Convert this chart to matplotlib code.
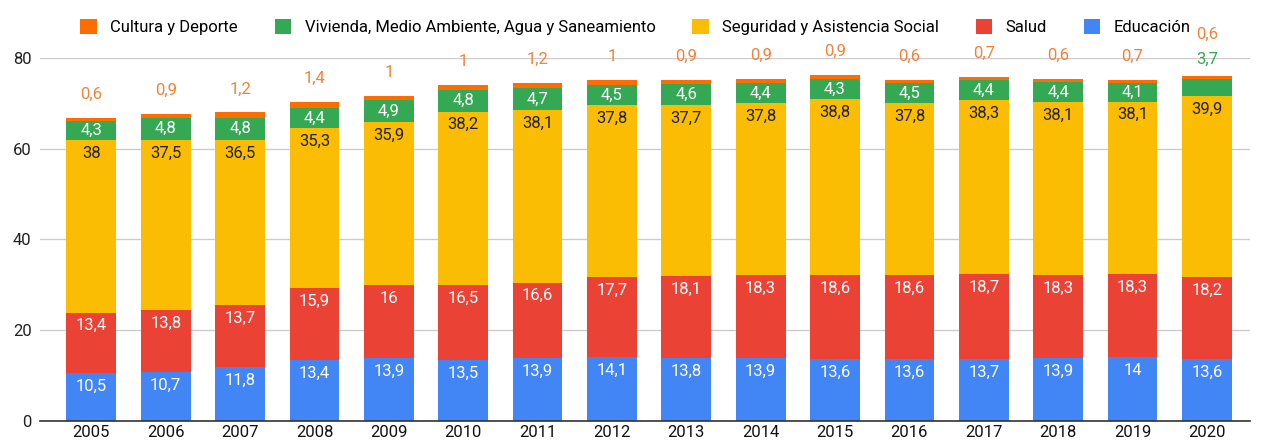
import matplotlib
matplotlib.use("Agg")
import matplotlib.pyplot as plt
import numpy as np

plt.rcParams['font.family'] = ['Roboto', 'DejaVu Sans']

years = ['2005', '2006', '2007', '2008', '2009', '2010', '2011', '2012',
         '2013', '2014', '2015', '2016', '2017', '2018', '2019', '2020']
educacion = [10.5, 10.7, 11.8, 13.4, 13.9, 13.5, 13.9, 14.1, 13.8, 13.9, 13.6, 13.6, 13.7, 13.9, 14.0, 13.6]
salud = [13.4, 13.8, 13.7, 15.9, 16.0, 16.5, 16.6, 17.7, 18.1, 18.3, 18.6, 18.6, 18.7, 18.3, 18.3, 18.2]
seguridad = [38.0, 37.5, 36.5, 35.3, 35.9, 38.2, 38.1, 37.8, 37.7, 37.8, 38.8, 37.8, 38.3, 38.1, 38.1, 39.9]
vivienda = [4.3, 4.8, 4.8, 4.4, 4.9, 4.8, 4.7, 4.5, 4.6, 4.4, 4.3, 4.5, 4.4, 4.4, 4.1, 3.7]
cultura = [0.6, 0.9, 1.2, 1.4, 1.0, 1.0, 1.2, 1.0, 0.9, 0.9, 0.9, 0.6, 0.7, 0.6, 0.7, 0.6]

series = [
    ('Educación', educacion, '#4285F4', 'white'),
    ('Salud', salud, '#EA4335', 'white'),
    ('Seguridad y Asistencia Social', seguridad, '#FBBC04', '#222222'),
    ('Vivienda, Medio Ambiente, Agua y Saneamiento', vivienda, '#34A853', 'white'),
    ('Cultura y Deporte', cultura, '#FF6D01', '#F2813A'),
]

def fmt(v):
    s = ('%.1f' % v).rstrip('0').rstrip('.')
    return s.replace('.', ',')

FS = 12
fig = plt.figure(figsize=(12.71, 4.42), dpi=100)
ax = fig.add_axes([0.0315, 0.0475, 0.952, 0.8213])
x = np.arange(len(years))
width = 0.67
bottom = np.zeros(len(years))
handles = {}
for name, vals, color, tcolor in series:
    vals = np.array(vals)
    bars = ax.bar(x, vals, width, bottom=bottom, color=color, zorder=3, label=name)
    handles[name] = bars
    tops = bottom + vals
    for i in range(len(years)):
        if name == 'Cultura y Deporte':
            off = 30 if i == len(years) - 1 else 17
            ax.annotate(fmt(vals[i]), (x[i], tops[i]), xytext=(0, off), textcoords='offset points',
                        ha='center', va='center', fontsize=FS, color='#F2813A', annotation_clip=False, zorder=5)
        elif name.startswith('Vivienda') and i == len(years) - 1:
            ax.annotate(fmt(vals[i]), (x[i], tops[i]), xytext=(0, 14), textcoords='offset points',
                        ha='center', va='center', fontsize=FS, color='#34A853', annotation_clip=False, zorder=5)
        elif name.startswith('Vivienda'):
            ax.annotate(fmt(vals[i]), (x[i], bottom[i] + vals[i] / 2), xytext=(0, 0), textcoords='offset points',
                        ha='center', va='center', fontsize=FS, color=tcolor, zorder=5)
        else:
            ax.annotate(fmt(vals[i]), (x[i], tops[i]), xytext=(0, -9.5), textcoords='offset points',
                        ha='center', va='center', fontsize=FS, color=tcolor, zorder=5)
    bottom = tops

ax.set_xlim(-0.69, 15.58)
ax.set_ylim(0, 80)
ax.set_yticks([0, 20, 40, 60, 80])
ax.set_xticks(x)
ax.set_xticklabels(years)
ax.grid(axis='y', color='#cccccc', linewidth=1, zorder=0)
for s in ['top', 'right', 'left']:
    ax.spines[s].set_visible(False)
ax.spines['bottom'].set_color('#333333')
ax.spines['bottom'].set_linewidth(1.2)
ax.spines['bottom'].set_zorder(4)
ax.tick_params(axis='y', length=0, labelsize=12, colors='#222222', pad=6)
ax.tick_params(axis='x', length=0, labelsize=12, colors='#111111', pad=3)

order = ['Cultura y Deporte', 'Vivienda, Medio Ambiente, Agua y Saneamiento',
         'Seguridad y Asistencia Social', 'Salud', 'Educación']
fig.legend([handles[n] for n in order], order, loc='center', bbox_to_anchor=(0.5, 0.938),
           ncol=5, frameon=False, fontsize=12, handlelength=1.0, handleheight=1.0,
           columnspacing=2.2, handletextpad=0.8)

fig.savefig('out.png', dpi=100)
